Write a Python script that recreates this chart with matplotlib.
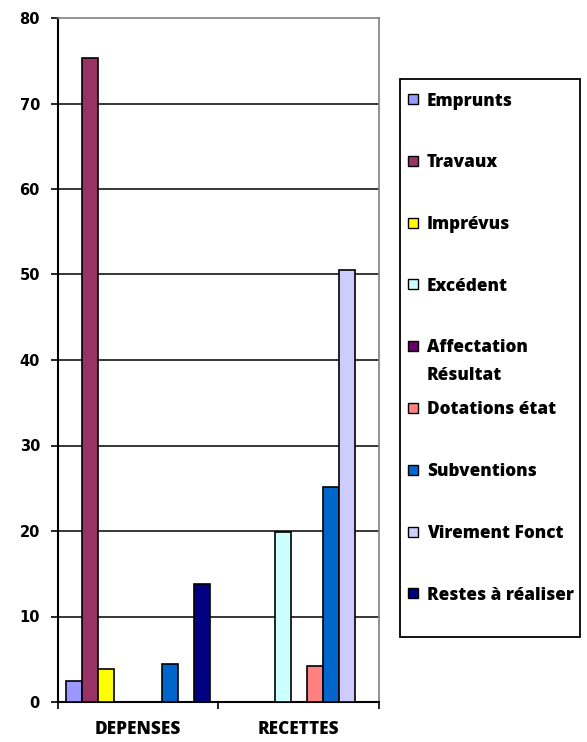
import matplotlib
matplotlib.use("Agg")
import matplotlib.pyplot as plt
from matplotlib.patches import Rectangle
import numpy as np

categories = ["DEPENSES", "RECETTES"]
series = ["Emprunts", "Travaux", "Imprévus", "Excédent", "Affectation\nRésultat",
          "Dotations état", "Subventions", "Virement Fonct", "Restes à réaliser"]
depenses = [2.5, 75.3, 3.9, 0, 0, 0, 4.4, 0, 13.8]
recettes = [0, 0, 0, 19.9, 0, 4.2, 25.2, 50.5, 0]
colors = ["#9999FF", "#993366", "#FFFF00", "#CCFFFF", "#660066",
          "#FF8080", "#0066CC", "#CCCCFF", "#000080"]
yticks = [0, 10, 20, 30, 40, 50, 60, 70, 80]

W, H = 587, 742
fig = plt.figure(figsize=(W / 100, H / 100), dpi=100)
ax = fig.add_axes([58 / W, 1 - 702 / H, 321 / W, 684 / H])

values = np.array([depenses, recettes])
n = len(series)
bw = 0.1
for i in range(n):
    x = np.arange(len(categories)) + 0.05 + bw * (i + 0.5)
    vals = values[:, i]
    keep = vals > 0
    ax.bar(x[keep], vals[keep], width=bw, color=colors[i], edgecolor="black",
           linewidth=1.2, zorder=3)

ax.set_xlim(0, 2)
ax.set_ylim(0, 80)
ax.set_yticks(yticks)
ax.set_yticklabels([str(v) for v in yticks], fontfamily="DejaVu Sans",
                   fontweight="bold", fontsize=10.5)
for v in yticks[1:-1]:
    ax.axhline(v, color="black", linewidth=1.1, zorder=1)

lab_font = dict(family="Open Sans", weight="heavy", size=12.3)

ax.set_xticks([0, 1, 2])
ax.set_xticklabels([])
ax.set_xticks([0.5, 1.5], minor=True)
ax.set_xticklabels(categories, minor=True, fontdict=lab_font)
ax.tick_params(axis="x", which="major", direction="out", length=5, width=1.2,
               color="black")
ax.tick_params(axis="x", which="minor", length=0, pad=14)
ax.tick_params(axis="y", direction="out", length=5, width=1.2, pad=8)

for s in ["left", "bottom"]:
    ax.spines[s].set_color("black")
    ax.spines[s].set_linewidth(1.5)
for s in ["top", "right"]:
    ax.spines[s].set_color("#808080")
    ax.spines[s].set_linewidth(1.2)

# legend drawn by hand to keep the Excel slot spacing
tf = fig.transFigure
fig.add_artist(Rectangle((400 / W, 1 - 637 / H), 180 / W, 558 / H,
                         transform=tf, facecolor="white", edgecolor="black",
                         linewidth=1.3))
y0, step = 99, 61.8
for i in range(n):
    yc = y0 + step * i
    fig.add_artist(Rectangle((408 / W, 1 - (yc + 5) / H), 10 / W, 10 / H,
                             transform=tf, facecolor=colors[i],
                             edgecolor="black", linewidth=1.0))
    ty = yc + 8 if "\n" in series[i] else yc
    fig.text(427 / W, 1 - ty / H, series[i], transform=tf, fontdict=lab_font,
             va="center_baseline", ha="left", linespacing=1.8)

fig.savefig("out.png", dpi=100)
